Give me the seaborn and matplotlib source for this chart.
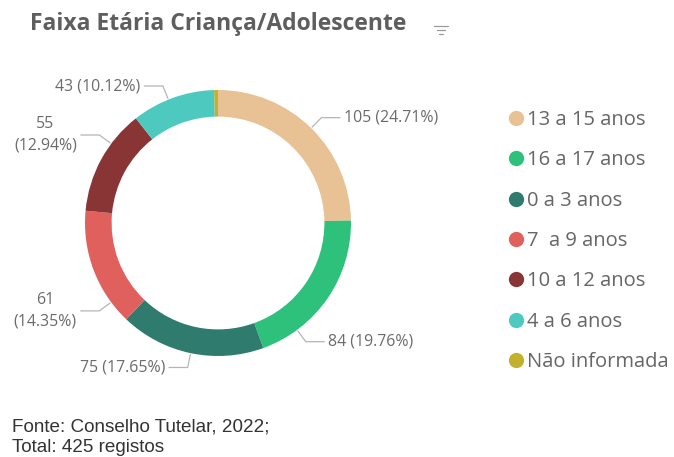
import numpy as np
import matplotlib
matplotlib.use("Agg")
import matplotlib.pyplot as plt
from matplotlib.lines import Line2D
import seaborn as sns

# data
categories = ["13 a 15 anos", "16 a 17 anos", "0 a 3 anos", "7  a 9 anos",
              "10 a 12 anos", "4 a 6 anos", "Não informada"]
counts = [105, 84, 75, 61, 55, 43, 2]
total = 425
colors = ["#E8C195", "#2EC17C", "#2F7C6E", "#E0605E", "#8A3535", "#4EC9BF", "#C2B12E"]

title = "Faixa Etária Criança/Adolescente"
footer = "Fonte: Conselho Tutelar, 2022;\nTotal: 425 registos"

sns.set_theme(style="white")
plt.rcParams["font.family"] = ["Open Sans", "DejaVu Sans"]

W, H = 674, 457
fig = plt.figure(figsize=(W / 100, H / 100), dpi=100)
fig.patch.set_facecolor("white")

# donut: centre (218, 223) px, outer radius 133 px
cx, cy, R = 218, 223, 133
half = 150
ax = fig.add_axes([(cx - half) / W, (H - cy - half) / H, 2 * half / W, 2 * half / H])

palette = sns.color_palette(colors)
wedges, _ = ax.pie(counts, colors=palette, startangle=90, counterclock=False,
                   radius=1.0, wedgeprops=dict(width=0.2, edgecolor="none"))
lim = half / R
ax.set_xlim(-lim, lim)
ax.set_ylim(-lim, lim)
ax.set_aspect("equal")
ax.axis("off")

# label leader tweaks (degrees), like the Power BI placement
angle_shift = {"16 a 17 anos": 19, "7  a 9 anos": -16, "10 a 12 anos": 8, "4 a 6 anos": -2}
wrapped = {"7  a 9 anos", "10 a 12 anos"}
label_color = "#6b6b6b"
cum = np.cumsum([0] + counts[:-1])
for cat, v, c0 in zip(categories, counts, cum):
    if v < 5:
        continue
    pct = v / total * 100
    mid = (c0 + v / 2) / total * 360 + angle_shift.get(cat, 0)  # clockwise from top
    ang = np.deg2rad(90 - mid)
    x0, y0 = 1.01 * np.cos(ang), 1.01 * np.sin(ang)
    x1, y1 = 1.11 * np.cos(ang), 1.11 * np.sin(ang)
    side = 1 if x1 > 0 else -1
    x2 = x1 + side * 0.14
    ax.plot([x0, x1, x2], [y0, y1, y1], color="#b5b5b5", lw=0.9)
    if cat in wrapped:
        txt = f"{v}\n({pct:.2f}%)"
    else:
        txt = f"{v} ({pct:.2f}%)"
    ax.text(x2 + side * 0.03, y1, txt, ha="left" if side > 0 else "right",
            va="center", multialignment="center", fontsize=11.4,
            color=label_color, linespacing=1.45)

# legend
handles = [Line2D([0], [0], marker="o", linestyle="none", markersize=11,
                  markerfacecolor=col, markeredgecolor="none") for col in colors]
fig.legend(handles, categories, loc="upper left", bbox_to_anchor=(500 / W, 1 - 102 / H),
           frameon=False, fontsize=14.5, labelcolor="#666666", handletextpad=0.15,
           labelspacing=1.01, handlelength=0.8, borderaxespad=0)

fig.text(30 / W, 1 - 24 / H, title, fontsize=16.5, fontweight="bold",
         color="#5e5e5e", ha="left", va="center")

# small filter icon next to the title
for i, (l, r) in enumerate([(434, 448), (437, 445), (439, 443)]):
    yy = 1 - (26 + i * 4) / H
    fig.add_artist(Line2D([l / W, r / W], [yy, yy], color="#9a9a9a", lw=0.9))

fig.text(12 / W, 1 - 437 / H, footer, fontsize=13.6, color="#333333",
         family=["Liberation Sans", "DejaVu Sans"], ha="left", va="center",
         linespacing=1.3)

fig.savefig("out.png", dpi=100, facecolor="white")
